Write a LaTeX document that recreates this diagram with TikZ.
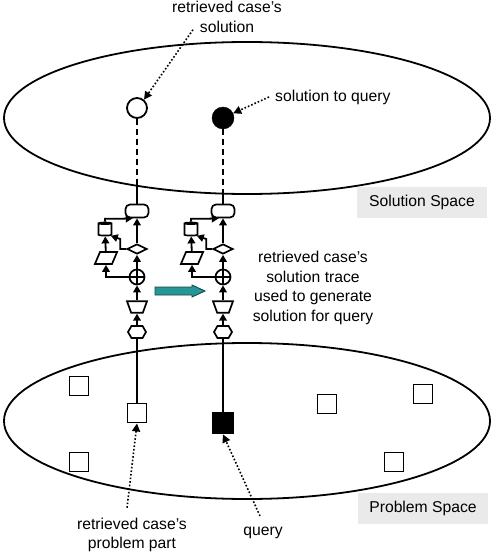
\documentclass[tikz,border=0pt]{standalone}
\usepackage{fontspec}
\setmainfont{Liberation Sans}
\usepackage{tikz}
\usetikzlibrary{arrows.meta,shapes.geometric,shapes.symbols,calc}
\definecolor{arrteal}{RGB}{38,150,150}
\definecolor{taggray}{RGB}{234,234,234}

\begin{document}
\begin{tikzpicture}[
  x=1pt, y=-1pt,
  font=\fontsize{15.7}{19.5}\selectfont,
  >={Triangle[length=7pt,width=7.5pt]},
  spacearea/.style={draw, line width=1.8pt, ellipse, minimum width=486pt, minimum height=152pt, inner sep=0pt},
  spacetag/.style={fill=taggray, minimum width=130pt, minimum height=31pt, inner sep=0pt},
  notetxt/.style={align=center, inner sep=0pt},
  casebox/.style={draw, line width=1.9pt, minimum size=19pt, inner sep=0pt},
  pointer/.style={-{Triangle[length=8pt,width=8pt]}, dotted, line width=1.6pt},
  flow/.style={->, line width=1.8pt},
  elem/.style={draw, line width=1.7pt, inner sep=0.5pt, fill=white},
  stepbox/.style={elem, rectangle, rounded corners=4.5pt, minimum width=23pt, minimum height=13pt},
  store/.style={elem, cylinder, shape border rotate=90, aspect=1.5, minimum width=13pt, minimum height=13pt},
  choice/.style={elem, diamond, aspect=2.2, minimum width=20pt, minimum height=10pt},
  datum/.style={elem, trapezium, trapezium left angle=67, trapezium right angle=113,
    minimum width=17pt, minimum height=12pt},
  merge/.style={elem, circle, minimum size=15pt, path picture={
    \draw[line width=1.3pt] (path picture bounding box.north) -- (path picture bounding box.south)
      (path picture bounding box.west) -- (path picture bounding box.east);}},
  funnel/.style={elem, trapezium, shape border rotate=180, trapezium angle=70,
    minimum width=20pt, minimum height=11pt},
  entry/.style={elem, signal, signal to=west and east, signal pointer angle=120,
    minimum width=18pt, minimum height=12pt},
]
  \useasboundingbox (0,0) rectangle (495,559);

  % ---------------- the two spaces ----------------
  \node[spacearea] (solspace) at (247,118) {};
  \node[spacearea, minimum height=156pt] (probspace) at (247,421) {};
  \node[spacetag] (soltag) at (422,202) {Solution Space};
  \node[spacetag] (probtag) at (423,508) {Problem Space};

  % ---------------- cases in problem space ----------------
  \node[casebox] (sqa) at (79,386) {};
  \node[casebox] (sqb) at (327,404) {};
  \node[casebox] (sqc) at (423,394) {};
  \node[casebox] (sqd) at (79,462) {};
  \node[casebox] (sqe) at (394,462) {};
  \node[casebox] (sqr) at (137,413) {};
  \node[casebox, fill=black, minimum size=21pt] (sqq) at (223,423) {};

  % ---------------- solutions ----------------
  \node[draw, circle, line width=1.8pt, minimum size=20pt, inner sep=0pt] (solr) at (137,108) {};
  \node[draw, circle, fill=black, minimum size=22pt, inner sep=0pt] (solq) at (223,118) {};

  % ---------------- solution traces ----------------
  \foreach \side/\x/\cut in {l/137/185, r/223/193}{
    \node[stepbox] (box\side) at (\x,211) {};
    \node[store]   (cyl\side) at (\x-32,230) {};
    \node[choice]  (dia\side) at (\x,249) {};
    \node[datum]   (par\side) at (\x-31,258) {};
    \node[merge]   (op\side)  at (\x,277) {};
    \node[funnel]  (trp\side) at (\x,307) {};
    \node[entry]   (hex\side) at (\x,332) {};
    \coordinate (cut\side) at (\x,\cut);
    \draw[flow] (hex\side) -- (trp\side);
    \draw[flow] (trp\side) -- (op\side);
    \draw[flow] (op\side) -- (dia\side);
    \draw[flow] (op\side.west) -| (par\side.south);
    \draw[flow] (par\side) -- (cyl\side);
    \draw[flow] (dia\side.west) -- ++(-6,0) -- ++(0,-10) -- (cyl\side.south east);
    \draw[flow] (cyl\side.north) |- ++(17,-3) -- (box\side.240);
    \draw[flow] (dia\side) -- (box\side);
    \draw[line width=1.8pt] (box\side) -- (cut\side);
  }
  \draw[dash pattern=on 6pt off 4pt, line width=1.8pt] (solr) -- (cutl);
  \draw[dash pattern=on 6pt off 4pt, line width=1.8pt] (solq) -- (cutr);
  \draw[line width=1.8pt] (hexl) -- (sqr);
  \draw[line width=1.8pt] (hexr) -- (sqq);

  % teal block arrow between the traces
  \draw[draw=arrteal!50!black, fill=arrteal, line width=0.9pt, line join=miter]
    (155,287) -- (192,287) -- (192,285) -- (205,291) -- (192,297) -- (192,295) -- (155,295) -- cycle;

  % ---------------- annotations ----------------
  \node[notetxt] (rcsol) at (227,17) {retrieved case’s\\solution};
  \draw[pointer] ([shift={(-34pt,3pt)}]rcsol.south) -- (solr.50);
  \node[notetxt, anchor=west] (sqnote) at (275,97) {solution to query};
  \draw[pointer] ([xshift=-6pt]sqnote.west) -- (solq.25);
  \node[notetxt] (trnote) at (313,288) {retrieved case’s\\solution trace\\used to generate\\solution for query};
  \node[notetxt] (ppnote) at (132,535) {retrieved case’s\\problem part};
  \draw[pointer] ([shift={(-5pt,10pt)}]ppnote.north) -- (sqr.south);
  \node[notetxt] (qnote) at (263,533) {query};
  \draw[pointer] ([shift={(-3pt,11pt)}]qnote.north) -- (sqq.south);
\end{tikzpicture}
\end{document}
